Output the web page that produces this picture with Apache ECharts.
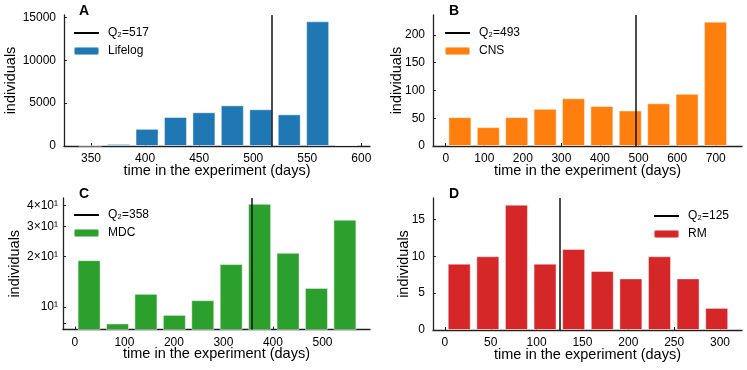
<!DOCTYPE html>
<html>
<head>
<meta charset="utf-8">
<script src="https://cdn.jsdelivr.net/npm/echarts@6/dist/echarts.min.js"></script>
<style>
    html, body { margin: 0; padding: 0; background: #fff; }
    #chart { width: 747px; height: 370px; }
</style>
</head>
<body>
<div id="chart"></div>
<script>
// bin centres (days) and counts
var lifelogCenters = [349.2, 375.5, 401.8, 428.1, 454.4, 480.7, 507.0, 533.3, 559.6, 585.9];
var lifelogCounts = [10, 240, 2000, 3380, 3930, 4740, 4280, 3690, 14530, 120];
var lifelogMedian = 517;
var lifelogXTicks = [350, 400, 450, 500, 550, 600];
var lifelogYTicks = [0, 5000, 10000, 15000];

var cnsCenters = [36.8, 110.4, 184.0, 257.6, 331.2, 404.8, 478.4, 552.0, 625.6, 699.2];
var cnsCounts = [52, 34, 52, 67, 86, 72, 64, 77, 94, 224];
var cnsMedian = 493;
var cnsXTicks = [0, 100, 200, 300, 400, 500, 600, 700];
var cnsYTicks = [0, 50, 100, 150, 200];

var mdcCenters = [28.7, 86.1, 143.5, 200.9, 258.3, 315.7, 373.1, 430.5, 487.9, 545.3];
var mdcCounts = [19, 8, 12, 9, 11, 18, 41, 21, 13, 33];
var mdcMedian = 358;
var mdcXTicks = [0, 100, 200, 300, 400, 500];
var mdcYTicks = [8, 10, 20, 30, 40];
var mdcYLabelValues = [10, 20, 30, 40];
var mdcYLabels = ['10¹', '2×10¹', '3×10¹', '4×10¹'];

var rmCenters = [15.6, 46.8, 78.0, 109.2, 140.4, 171.6, 202.8, 234.0, 265.2, 296.4];
var rmCounts = [9, 10, 17, 9, 11, 8, 7, 10, 7, 3];
var rmMedian = 125;
var rmXTicks = [0, 50, 100, 150, 200, 250, 300];
var rmYTicks = [0, 5, 10, 15];

var FONT = 'Liberation Sans, Arial, sans-serif';
var AXIS_COLOR = '#222';
var XNAME = 'time in the experiment (days)';

function log10(v) {
    return Math.log(v) / Math.LN10;
}

function plain(v) {
    return String(v);
}

function xAxisFor(idx, min, max, ticks) {
    return {
        type: 'value',
        gridIndex: idx,
        min: min,
        max: max,
        name: XNAME,
        nameLocation: 'middle',
        nameGap: 17,
        nameMoveOverlap: false,
        nameTextStyle: { fontFamily: FONT, fontSize: 14.5, color: '#000' },
        axisLine: { show: true, onZero: false, lineStyle: { color: AXIS_COLOR, width: 1.3 } },
        axisTick: { show: true, inside: true, length: 3, customValues: ticks,
            lineStyle: { color: AXIS_COLOR, width: 1 } },
        axisLabel: { customValues: ticks, margin: 7, formatter: plain,
            fontFamily: FONT, fontSize: 12, color: '#000' },
        splitLine: { show: false }
    };
}

function yAxisFor(idx, min, max, ticks, gap, labelOpts) {
    var label = { customValues: ticks, margin: 8, formatter: plain,
        fontFamily: FONT, fontSize: 12, color: '#000' };
    var tickValues = ticks;
    if (labelOpts) {
        label.margin = labelOpts.margin;
        label.formatter = labelOpts.formatter;
        tickValues = labelOpts.tickValues;
    }
    return {
        type: 'value',
        gridIndex: idx,
        min: min,
        max: max,
        name: 'individuals',
        nameLocation: 'middle',
        nameGap: gap,
        nameMoveOverlap: false,
        nameTextStyle: { fontFamily: FONT, fontSize: 14.5, color: '#000' },
        axisLine: { show: true, onZero: false, lineStyle: { color: AXIS_COLOR, width: 1.3 } },
        axisTick: { show: true, inside: true, length: 3, customValues: tickValues,
            lineStyle: { color: AXIS_COLOR, width: 1 } },
        axisLabel: label,
        splitLine: { show: false }
    };
}

function barSeries(idx, name, color, centers, counts, transform) {
    var data = [];
    for (var i = 0; i < centers.length; i++) {
        data.push([centers[i], transform ? transform(counts[i]) : counts[i]]);
    }
    return {
        name: name,
        type: 'bar',
        xAxisIndex: idx,
        yAxisIndex: idx,
        barWidth: 23,
        clip: true,
        itemStyle: { color: color, borderColor: 'rgba(255,255,255,0.45)', borderWidth: 1 },
        emphasis: { disabled: true },
        data: data
    };
}

function medianSeries(idx, median) {
    return {
        name: 'Q₂=' + median,
        type: 'line',
        xAxisIndex: idx,
        yAxisIndex: idx,
        symbol: 'none',
        color: '#000',
        lineStyle: { color: '#000', width: 1.5 },
        data: [],
        z: 5,
        markLine: {
            silent: true,
            symbol: ['none', 'none'],
            label: { show: false },
            lineStyle: { color: '#111', width: 1.5, type: 'solid' },
            data: [{ xAxis: median }]
        }
    };
}

function legendFor(left, top, lineName, barName) {
    return {
        left: left,
        top: top,
        orient: 'vertical',
        padding: 0,
        itemGap: 6,
        itemWidth: 25,
        itemHeight: 8,
        textStyle: { fontFamily: FONT, fontSize: 12, color: '#000', padding: [0, 0, 0, 4] },
        data: [
            { name: lineName, itemStyle: { color: 'rgba(0,0,0,0)', borderWidth: 0, opacity: 0 } },
            { name: barName }
        ]
    };
}

function titleFor(text, left, top) {
    return {
        text: text,
        left: left,
        top: top,
        padding: 0,
        textStyle: { fontFamily: FONT, fontSize: 14, fontWeight: 'bold', color: '#000' }
    };
}

var chart = echarts.init(document.getElementById('chart'), null, { renderer: 'canvas' });

var mdcLabelMap = {};
for (var i = 0; i < mdcYLabelValues.length; i++) {
    mdcLabelMap[mdcYLabelValues[i]] = mdcYLabels[i];
}

var option = {
    animation: false,
    backgroundColor: '#fff',
    title: [
        titleFor('A', 79, 4),
        titleFor('B', 449, 4),
        titleFor('C', 79, 187),
        titleFor('D', 449, 187)
    ],
    grid: [
        { left: 64, top: 15, width: 306, height: 131 },
        { left: 433, top: 15, width: 309, height: 131 },
        { left: 63, top: 198, width: 307, height: 131.5 },
        { left: 433, top: 198, width: 309, height: 132 }
    ],
    legend: [
        legendFor(73, 27, 'Q₂=' + lifelogMedian, 'Lifelog'),
        legendFor(444, 27, 'Q₂=' + cnsMedian, 'CNS'),
        legendFor(73, 209, 'Q₂=' + mdcMedian, 'MDC'),
        legendFor(653, 210, 'Q₂=' + rmMedian, 'RM')
    ],
    xAxis: [
        xAxisFor(0, 325, 608, lifelogXTicks),
        xAxisFor(1, -33, 768, cnsXTicks),
        xAxisFor(2, -24, 596, mdcXTicks),
        xAxisFor(3, -13, 324, rmXTicks)
    ],
    yAxis: [
        yAxisFor(0, 0, 15270, lifelogYTicks, 46),
        yAxisFor(1, 0, 236, cnsYTicks, 29),
        yAxisFor(2, log10(7.37), log10(44.4), mdcYLabelValues.map(log10), 41, {
            margin: 5,
            tickValues: mdcYTicks.map(log10),
            formatter: function(v) {
                return mdcLabelMap[Math.round(Math.pow(10, v))] || '';
            }
        }),
        yAxisFor(3, 0, 17.9, rmYTicks, 22)
    ],
    series: [
        barSeries(0, 'Lifelog', '#1f77b4', lifelogCenters, lifelogCounts),
        medianSeries(0, lifelogMedian),
        barSeries(1, 'CNS', '#ff7f0e', cnsCenters, cnsCounts),
        medianSeries(1, cnsMedian),
        barSeries(2, 'MDC', '#2ca02c', mdcCenters, mdcCounts, log10),
        medianSeries(2, mdcMedian),
        barSeries(3, 'RM', '#d62728', rmCenters, rmCounts),
        medianSeries(3, rmMedian)
    ]
};

chart.setOption(option);
</script>
</body>
</html>
